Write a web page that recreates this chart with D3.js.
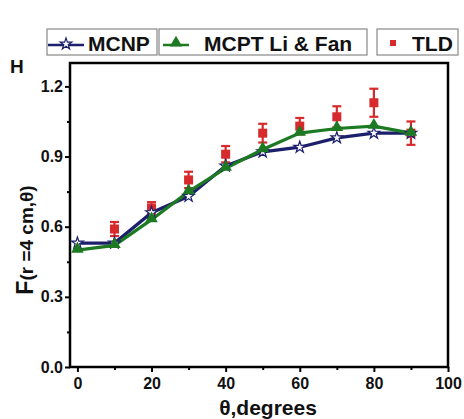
<!DOCTYPE html>
<html>
<head>
<meta charset="utf-8">
<script src="https://cdn.jsdelivr.net/npm/d3@7"></script>
<style>
  html, body { margin: 0; padding: 0; background: #fff; }
  svg { display: block; font-family: Arial, "Liberation Sans", sans-serif; }
</style>
</head>
<body>
<svg id="chart" width="464" height="419"></svg>
<script>
// Angles (degrees)
const angles = [0, 10, 20, 30, 40, 50, 60, 70, 80, 90];
// Monte Carlo N-Particle results
const mcnp = [0.53, 0.53, 0.66, 0.73, 0.86, 0.92, 0.94, 0.98, 1.00, 1.00];
// MCPT results, Li & Fan
const mcpt = [0.50, 0.52, 0.63, 0.75, 0.85, 0.93, 1.00, 1.02, 1.03, 1.00];
// TLD measurements with uncertainty
const tldAngles = [10, 20, 30, 40, 50, 60, 70, 80, 90];
const tld = [0.59, 0.68, 0.80, 0.91, 1.00, 1.03, 1.07, 1.13, 1.00];
const tldErr = [0.03, 0.025, 0.035, 0.035, 0.04, 0.035, 0.045, 0.06, 0.05];

const xTicks = [0, 20, 40, 60, 80, 100];
const xMinorTicks = [10, 30, 50, 70, 90];
const yTicks = [0.0, 0.3, 0.6, 0.9, 1.2];
const yMinorTicks = [0.15, 0.45, 0.75, 1.05];

const svg = d3.select("#chart");
const plotL = 70, plotR = 448, plotT = 63, plotB = 367;

const x = d3.scaleLinear().domain([-2, 100]).range([plotL, plotR]);
const y = d3.scaleLinear().domain([0, 1.3]).range([plotB, plotT]);

const navy = "#1c1f6b", green = "#1d7a22", red = "#d62a2c";

// Frame
svg.append("rect")
  .attr("x", plotL).attr("y", plotT)
  .attr("width", plotR - plotL).attr("height", plotB - plotT)
  .attr("fill", "none").attr("stroke", "#000").attr("stroke-width", 2.5);

// Axes
const xAxis = svg.append("g").attr("transform", `translate(0,${plotB})`)
  .call(d3.axisBottom(x).tickValues(xTicks).tickFormat(d3.format("d")).tickSize(5).tickSizeOuter(0));
const xMinor = svg.append("g").attr("transform", `translate(0,${plotB})`)
  .call(d3.axisBottom(x).tickValues(xMinorTicks).tickFormat("").tickSize(3).tickSizeOuter(0));
const yAxis = svg.append("g").attr("transform", `translate(${plotL},0)`)
  .call(d3.axisLeft(y).tickValues(yTicks).tickFormat(d3.format(".1f")).tickSize(5).tickSizeOuter(0));
const yMinor = svg.append("g").attr("transform", `translate(${plotL},0)`)
  .call(d3.axisLeft(y).tickValues(yMinorTicks).tickFormat("").tickSize(3).tickSizeOuter(0));

[xAxis, xMinor, yAxis, yMinor].forEach(g => {
  g.select(".domain").remove();
  g.selectAll(".tick line").attr("stroke", "#000").attr("stroke-width", 2);
  g.selectAll("text").attr("font-size", 16).attr("font-weight", "bold").attr("fill", "#111");
});
xAxis.selectAll("text").attr("y", 10).attr("dy", "0.75em");
yAxis.selectAll("text").attr("x", -7);

// Series lines
const line = d3.line().x(d => x(d[0])).y(d => y(d[1]));
const mcnpPts = angles.map((a, i) => [a, mcnp[i]]);
const mcptPts = angles.map((a, i) => [a, mcpt[i]]);

// TLD error bars and markers
const tldG = svg.append("g");
tldAngles.forEach((a, i) => {
  const cx = x(a), y1 = y(tld[i] + tldErr[i]), y0 = y(tld[i] - tldErr[i]);
  tldG.append("line").attr("x1", cx).attr("x2", cx).attr("y1", y1).attr("y2", y0)
    .attr("stroke", red).attr("stroke-width", 2.2);
  [y1, y0].forEach(yy => tldG.append("line")
    .attr("x1", cx - 4.5).attr("x2", cx + 4.5).attr("y1", yy).attr("y2", yy)
    .attr("stroke", red).attr("stroke-width", 2.2));
});
tldG.selectAll("rect.m").data(tldAngles).join("rect")
  .attr("x", d => x(d) - 4.5).attr("y", (d, i) => y(tld[i]) - 4.5)
  .attr("width", 9).attr("height", 9).attr("fill", red);

svg.append("path").datum(mcnpPts).attr("d", line)
  .attr("fill", "none").attr("stroke", navy).attr("stroke-width", 3.2);
svg.append("path").datum(mcptPts).attr("d", line)
  .attr("fill", "none").attr("stroke", green).attr("stroke-width", 3.2);

// Stars, then triangles on top
const star = d3.symbol().type(d3.symbolStar).size(42);
svg.append("g").selectAll("path").data(mcnpPts).join("path")
  .attr("transform", d => `translate(${x(d[0])},${y(d[1])})`)
  .attr("d", star).attr("fill", "#fff").attr("stroke", navy).attr("stroke-width", 1.2);
const tri = d3.symbol().type(d3.symbolTriangle).size(68);
svg.append("g").selectAll("path").data(mcptPts).join("path")
  .attr("transform", d => `translate(${x(d[0])},${y(d[1]) - 1})`)
  .attr("d", tri).attr("fill", green);

// Legend boxes
const legend = svg.append("g").attr("font-weight", "bold").attr("font-size", 21).attr("fill", "#111");
function box(x0, x1) {
  legend.append("rect").attr("x", x0).attr("y", 29).attr("width", x1 - x0).attr("height", 26)
    .attr("fill", "#fff").attr("stroke", "#888").attr("stroke-width", 1.2);
}
box(47, 157); box(159, 367); box(377, 458);
// MCNP
legend.append("line").attr("x1", 48).attr("x2", 84).attr("y1", 45).attr("y2", 45)
  .attr("stroke", navy).attr("stroke-width", 2.5);
legend.append("path").attr("transform", "translate(66,44)").attr("d", star)
  .attr("fill", "#fff").attr("stroke", navy).attr("stroke-width", 1.2);
legend.append("text").attr("x", 88).attr("y", 50.5).text("MCNP");
// MCPT
legend.append("line").attr("x1", 163).attr("x2", 189).attr("y1", 45).attr("y2", 45)
  .attr("stroke", green).attr("stroke-width", 2.5);
legend.append("path").attr("transform", "translate(176,43)").attr("d", tri).attr("fill", green);
legend.append("text").attr("x", 204).attr("y", 50.5).text("MCPT Li & Fan");
// TLD
legend.append("rect").attr("x", 390).attr("y", 40).attr("width", 6).attr("height", 6).attr("fill", red);
legend.append("text").attr("x", 412).attr("y", 50.5).text("TLD");

// Panel letter
svg.append("text").attr("x", 10).attr("y", 73).attr("font-weight", "bold")
  .attr("font-size", 19).attr("fill", "#111").text("H");

// Axis titles
svg.append("text").attr("x", 268).attr("y", 415).attr("text-anchor", "middle")
  .attr("font-weight", "bold").attr("font-size", 21).attr("fill", "#111")
  .text("θ,degrees");
const yl = svg.append("text").attr("transform", "translate(33,240) rotate(-90)")
  .attr("text-anchor", "middle").attr("font-weight", "bold").attr("fill", "#111");
yl.append("tspan").attr("font-size", 23).text("F");
yl.append("tspan").attr("font-size", 19).text("(r =4 cm,θ)");
</script>
</body>
</html>
